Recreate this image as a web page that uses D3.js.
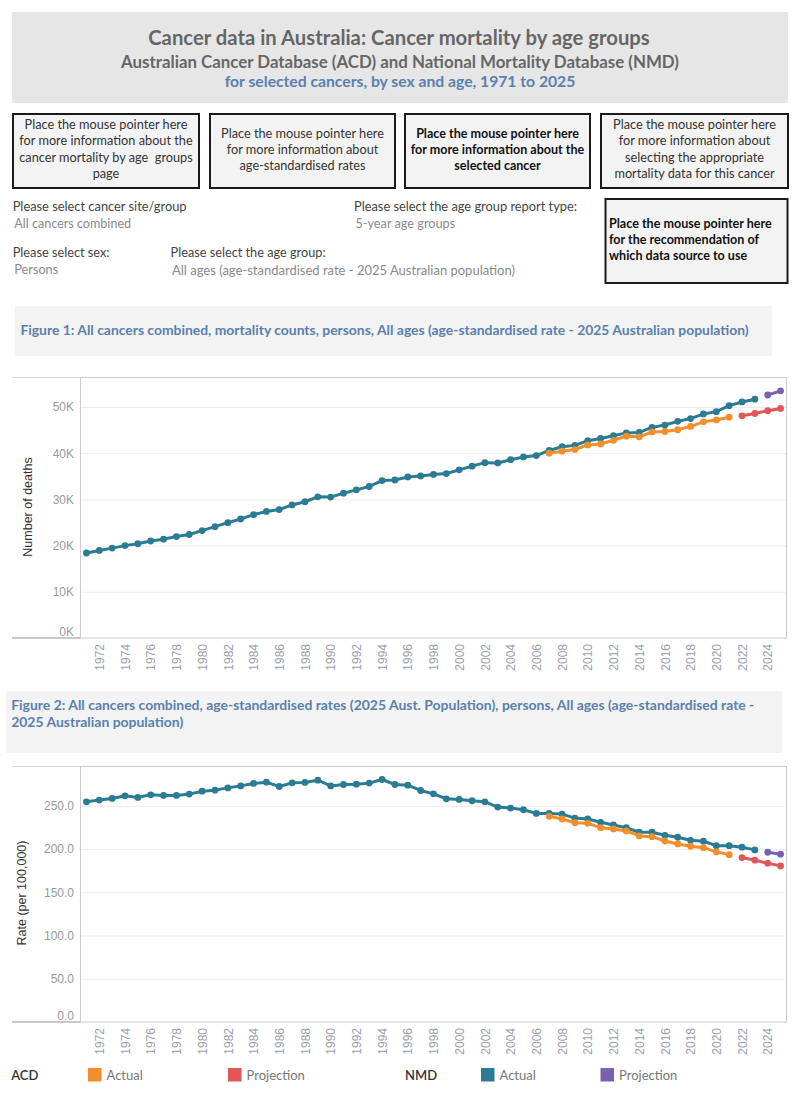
<!DOCTYPE html>
<html><head><meta charset="utf-8">
<script src="https://cdn.jsdelivr.net/npm/d3@7"></script>
<style>body{margin:0;background:#fff}svg{display:block}text{white-space:pre}</style>
</head><body>
<script>
// ---------- DATA ----------
const years = [1971,1972,1973,1974,1975,1976,1977,1978,1979,1980,1981,1982,1983,1984,1985,1986,1987,1988,1989,1990,
  1991,1992,1993,1994,1995,1996,1997,1998,1999,2000,2001,2002,2003,2004,2005,2006,2007,2008,2009,2010,
  2011,2012,2013,2014,2015,2016,2017,2018,2019,2020,2021,2022,2023,2024,2025];
const xTickYears = [1972,1974,1976,1978,1980,1982,1984,1986,1988,1990,1992,1994,1996,1998,2000,2002,2004,2006,2008,2010,2012,2014,2016,2018,2020,2022,2024];

const nmdActualYears = years.slice(0, 53);          // 1971-2023
const nmdProjYears = [2024, 2025];
const acdActualYears = years.slice(36, 51);         // 2007-2021
const acdProjYears = [2022, 2023, 2024, 2025];

// Figure 1: mortality counts
const nmdDeathsActual = [18400,18950,19460,20000,20400,21000,21400,21960,22400,23250,
  24100,24970,25760,26700,27400,27800,28800,29500,30560,30500,
  31350,32070,32800,34080,34200,34860,35080,35400,35600,36400,
  37200,37960,37900,38600,39200,39500,40600,41400,41700,42700,
  43200,43800,44400,44500,45600,46100,46900,47500,48500,49000,
  50300,51100,51700];
const nmdDeathsProj = [52600, 53500];
const acdDeathsActual = [40000,40450,40800,41800,42000,42800,43700,43550,44600,44700,45100,45800,46800,47200,47800];
const acdDeathsProj = [48100,48600,49200,49700];
const deathTicks = [0,10000,20000,30000,40000,50000];

// Figure 2: age-standardised rates
const nmdRateActual = [254.6,256.6,258.5,261.5,259.7,262.7,262.0,262.0,263.5,266.9,
  268.1,270.7,273.0,275.8,277.3,272.3,276.5,277.0,279.6,273.0,
  274.6,275.0,276.2,280.4,274.6,273.8,267.7,263.8,258.1,257.4,
  255.8,254.6,248.5,247.4,245.4,241.2,241.2,240.4,235.8,234.7,
  230.9,227.8,224.7,219.4,219.4,215.9,213.6,210.1,209.0,203.9,
  203.9,202.1,199.0];
const nmdRateProj = [196.3, 194.0];
const acdRateActual = [237.8,234.7,230.4,229.7,224.7,223.2,220.9,215.1,214.3,209.3,205.9,203.2,201.6,196.7,193.5];
const acdRateProj = [190.1,187.1,183.6,180.5];
const rateTicks = [0,50,100,150,200,250];

const legendGroups = ["ACD", "NMD"];
const legendItems = ["Actual", "Projection"];

// ---------- STYLE ----------
const COL = {acdA:"#f28e2b", acdP:"#e15759", nmdA:"#2b7c93", nmdP:"#7a60b1"};
const TF = "Lato, 'Open Sans', sans-serif";
const AF = "'Liberation Sans', Arial, sans-serif";

const svg = d3.select("body").append("svg").attr("width", 800).attr("height", 1100);

function txt(x, yc, s, o) {
  o = o || {};
  const fs = o.size || 13;
  const t = svg.append("text").attr("x", x).attr("y", yc).attr("dy", "0.35em")
    .attr("xml:space", "preserve")
    .attr("font-family", o.family || TF).attr("font-size", fs)
    .attr("font-weight", o.weight || "normal").attr("fill", o.color || "#333")
    .attr("text-anchor", o.anchor || "start").text(s);
  if (o.width) {
    const L = t.node().getComputedTextLength();
    if (L > 0) t.attr("font-size", fs * o.width / L);
  }
  return t;
}

// ---------- HEADER ----------
svg.append("rect").attr("x", 12).attr("y", 12).attr("width", 776).attr("height", 91).attr("fill", "#e6e6e6");
txt(399, 37.5, "Cancer data in Australia: Cancer mortality by age groups", {size:19, weight:"bold", color:"#666", anchor:"middle", width:502});
txt(400, 62, "Australian Cancer Database (ACD) and National Mortality Database (NMD)", {size:16, weight:"bold", color:"#666", anchor:"middle", width:558});
txt(400, 81.5, "for selected cancers, by sex and age, 1971 to 2025", {size:15, weight:"bold", color:"#5a80b0", anchor:"middle", width:351});

// ---------- INFO BOXES ----------
function infoBox(x, y, w, h, lines, ys, bold, align) {
  svg.append("rect").attr("x", x).attr("y", y).attr("width", w).attr("height", h)
    .attr("fill", "#f3f3f3").attr("stroke", "#1a1a1a").attr("stroke-width", 2);
  let fsz = null;
  lines.forEach((s, i) => {
    const cx = align === "start" ? x + 3.5 : x + w / 2;
    const t = txt(cx, ys[i], s, {size: 13, weight: bold ? "bold" : "normal", color: bold ? "#111" : "#333", anchor: align || "middle"});
    if (i === 0) {
      const L = t.node().getComputedTextLength();
      fsz = 13 * 163 / L;
    }
    t.attr("font-size", fsz);
  });
}
infoBox(13, 114, 186, 74, ["Place the mouse pointer here","for more information about the","cancer mortality by age  groups","page"], [125,141,157.5,174], false);
infoBox(210, 114, 185, 74, ["Place the mouse pointer here","for more information about","age-standardised rates"], [134,149.5,166], false);
infoBox(405, 114, 185, 74, ["Place the mouse pointer here","for more information about the","selected cancer"], [134,149.5,166], true);
infoBox(601, 114, 187, 74, ["Place the mouse pointer here","for more information about","selecting the appropriate","mortality data for this cancer"], [125,141,157.5,174], false);
infoBox(605.5, 199, 182, 84, ["Place the mouse pointer here","for the recommendation of","which data source to use"], [224,240,256], true, "start");

// ---------- SELECTORS ----------
txt(12.7, 206.7, "Please select cancer site/group", {color:"#444", width:174});
txt(14.3, 224, "All cancers combined", {color:"#8a8a8a", width:117});
txt(354, 206.7, "Please select the age group report type:", {color:"#444", width:223});
txt(355.4, 224, "5-year age groups", {color:"#8a8a8a", width:100});
txt(12.7, 252.7, "Please select sex:", {color:"#444", width:97});
txt(14.3, 270, "Persons", {color:"#8a8a8a", width:44});
txt(170.6, 252.7, "Please select the age group:", {color:"#444", width:155});
txt(172, 270, "All ages (age-standardised rate - 2025 Australian population)", {color:"#8a8a8a", width:343});

// ---------- FIGURE TITLES ----------
svg.append("rect").attr("x", 15).attr("y", 306).attr("width", 757).attr("height", 50).attr("fill", "#f3f3f3");
txt(20.4, 330.5, "Figure 1: All cancers combined, mortality counts, persons, All ages (age-standardised rate - 2025 Australian population)", {size:13, weight:"bold", color:"#5a80ae", width:729});
svg.append("rect").attr("x", 6).attr("y", 691).attr("width", 776).attr("height", 62).attr("fill", "#f3f3f3");
const f2 = txt(11.2, 705, "Figure 2: All cancers combined, age-standardised rates (2025 Aust. Population), persons, All ages (age-standardised rate -", {size:13, weight:"bold", color:"#5a80ae", width:744});
txt(11.2, 722, "2025 Australian population)", {size:+f2.attr("font-size"), weight:"bold", color:"#5a80ae"});

// ---------- CHARTS ----------
const x = d3.scalePoint().domain(years).range([80, 787]).padding(0.5);

function chart(cfg) {
  const y = d3.scaleLinear().domain([0, cfg.max]).range([cfg.bottom, cfg.top]);
  const g = svg.append("g");
  // left panel lines
  g.append("line").attr("x1", 12).attr("x2", 80).attr("y1", cfg.top + 0.5).attr("y2", cfg.top + 0.5).attr("stroke", "#d9d9d9");
  g.append("line").attr("x1", 12).attr("x2", 80).attr("y1", cfg.bottom).attr("y2", cfg.bottom).attr("stroke", "#c8c8c8").attr("stroke-width", 2);
  // gridlines
  const grid = g.append("g").attr("transform", "translate(80,0)")
    .call(d3.axisLeft(y).tickValues(cfg.ticks.filter(v => v > 0)).tickSize(-707).tickFormat(""));
  grid.select(".domain").remove();
  grid.selectAll("line").attr("stroke", "#ebebeb");
  // frame
  g.append("rect").attr("x", 80.5).attr("y", cfg.top + 0.5).attr("width", 706).attr("height", cfg.bottom - cfg.top - 0.5)
    .attr("fill", "none").attr("stroke", "#cbcbcb");
  // y axis labels
  const ya = g.append("g").attr("transform", "translate(74,0)")
    .call(d3.axisLeft(y).tickValues(cfg.ticks).tickSize(0).tickPadding(0).tickFormat(cfg.fmt));
  ya.select(".domain").remove();
  ya.selectAll("text").attr("font-family", AF).attr("font-size", 12).attr("fill", "#999")
    .attr("dy", d => d === 0 ? "-0.25em" : "0.32em");
  // y title
  g.append("text").attr("transform", `translate(${cfg.titleX},${cfg.titleY}) rotate(-90)`)
    .attr("text-anchor", "middle").attr("dy", "0.35em").attr("font-family", AF).attr("font-size", 12.5)
    .attr("fill", "#333").text(cfg.title);
  // x axis labels
  const xa = g.append("g").attr("transform", `translate(0,${cfg.bottom})`)
    .call(d3.axisBottom(x).tickValues(xTickYears).tickSize(0).tickPadding(0));
  xa.select(".domain").remove();
  xa.selectAll("text").attr("font-family", AF).attr("font-size", 12).attr("fill", "#9aa0aa")
    .attr("text-anchor", "end").attr("transform", "rotate(-90)").attr("x", -6).attr("y", 0).attr("dy", "0.35em");
  // series
  const line = d3.line().x(d => x(d.year)).y(d => y(d.value));
  cfg.series.forEach(s => {
    const pts = s.years.map((yr, i) => ({year: yr, value: s.values[i]}));
    g.append("path").datum(pts).attr("d", line).attr("fill", "none").attr("stroke", s.color)
      .attr("stroke-width", 3).attr("stroke-linejoin", "round");
    g.selectAll(null).data(pts).enter().append("circle")
      .attr("cx", d => x(d.year)).attr("cy", d => y(d.value)).attr("r", 3.4).attr("fill", s.color);
  });
}

chart({top: 377, bottom: 638, max: 56500, ticks: deathTicks, fmt: d => (d / 1000) + "K",
  title: "Number of deaths", titleX: 28, titleY: 507,
  series: [
    {years: nmdActualYears, values: nmdDeathsActual, color: COL.nmdA},
    {years: nmdProjYears, values: nmdDeathsProj, color: COL.nmdP},
    {years: acdActualYears, values: acdDeathsActual, color: COL.acdA},
    {years: acdProjYears, values: acdDeathsProj, color: COL.acdP}
  ]});

chart({top: 766, bottom: 1022, max: 296, ticks: rateTicks, fmt: d3.format(".1f"),
  title: "Rate (per 100,000)", titleX: 22, titleY: 893,
  series: [
    {years: nmdActualYears, values: nmdRateActual, color: COL.nmdA},
    {years: nmdProjYears, values: nmdRateProj, color: COL.nmdP},
    {years: acdActualYears, values: acdRateActual, color: COL.acdA},
    {years: acdProjYears, values: acdRateProj, color: COL.acdP}
  ]});

// ---------- LEGEND ----------
const legY = 1075;
const legPos = [
  {g: 0, gx: 11.2, items: [{x: 88, c: COL.acdA}, {x: 228, c: COL.acdP}]},
  {g: 1, gx: 405, items: [{x: 481, c: COL.nmdA}, {x: 600.5, c: COL.nmdP}]}
];
legPos.forEach(p => {
  txt(p.gx, legY, legendGroups[p.g], {size: 13, color: "#333", weight: "600"});
  p.items.forEach((it, i) => {
    svg.append("rect").attr("x", it.x).attr("y", legY - 7).attr("width", 13.5).attr("height", 13.5).attr("fill", it.c);
    txt(it.x + 18.5, legY, legendItems[i], {size: 13, color: "#777"});
  });
});
</script>
</body></html>
